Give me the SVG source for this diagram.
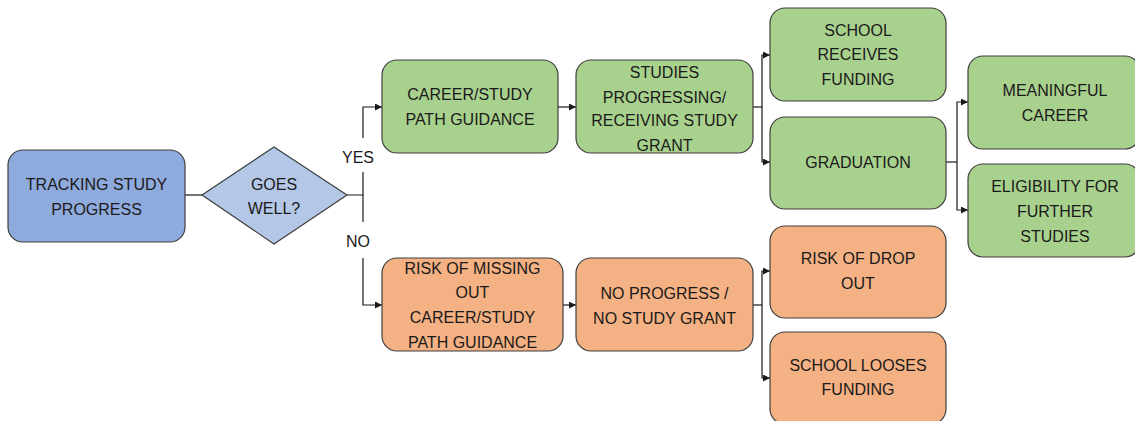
<svg xmlns="http://www.w3.org/2000/svg" width="1135" height="421" viewBox="0 0 1135 421">
<defs>
<style>
.box{stroke:#3f3f3f;stroke-width:1.2}
.blue{fill:#8faadc}
.dia{fill:#b4c7e7}
.green{fill:#a9d18e}
.orange{fill:#f4b183}
text{font-family:"Liberation Sans",Arial,sans-serif;font-size:16px;fill:#1a1a1a;text-anchor:middle;dominant-baseline:central}
.conn{fill:none;stroke:#1a1a1a;stroke-width:1.2}
</style>
<marker id="arr" viewBox="0 0 10 10" refX="10" refY="5" markerWidth="7" markerHeight="7" markerUnits="userSpaceOnUse" orient="auto">
<path d="M0,0 L10,5 L0,10 z" fill="#1a1a1a"/>
</marker>
</defs>
<rect width="1135" height="421" fill="#ffffff"/>

<g id="connectors">
<path class="conn" d="M185,195 H202"/>
<path class="conn" d="M347,195 H363 V172"/>
<path class="conn" d="M363,138 V107 H382" marker-end="url(#arr)"/>
<path class="conn" d="M363,195 V222"/>
<path class="conn" d="M363,258 V305 H382" marker-end="url(#arr)"/>
<path class="conn" d="M558,107 H576" marker-end="url(#arr)"/>
<path class="conn" d="M563,305 H576" marker-end="url(#arr)"/>
<path class="conn" d="M753,107 H762"/>
<path class="conn" d="M762,107 V55 H770" marker-end="url(#arr)"/>
<path class="conn" d="M762,107 V162 H770" marker-end="url(#arr)"/>
<path class="conn" d="M946,162 H957"/>
<path class="conn" d="M957,162 V102 H968" marker-end="url(#arr)"/>
<path class="conn" d="M957,162 V210 H968" marker-end="url(#arr)"/>
<path class="conn" d="M753,305 H762"/>
<path class="conn" d="M762,305 V271 H770" marker-end="url(#arr)"/>
<path class="conn" d="M762,305 V378 H770" marker-end="url(#arr)"/>
<text x="358" y="157">YES</text>
<text x="358" y="241">NO</text>
</g>

<g id="tracking">
<rect class="box blue" x="8" y="150" width="177" height="92" rx="15"/>
<text x="96.5" y="184">TRACKING STUDY</text>
<text x="96.5" y="209">PROGRESS</text>
</g>

<g id="goes-well">
<polygon class="box dia" points="202,195 274,147 347,195 274,244"/>
<text x="274" y="184">GOES</text>
<text x="274" y="208">WELL?</text>
</g>

<g id="career">
<rect class="box green" x="382" y="60" width="176" height="93" rx="15"/>
<text x="470" y="94">CAREER/STUDY</text>
<text x="470" y="119">PATH GUIDANCE</text>
</g>

<g id="studies">
<rect class="box green" x="576" y="60" width="177" height="93" rx="15"/>
<text x="664.5" y="72">STUDIES</text>
<text x="664.5" y="97">PROGRESSING/</text>
<text x="664.5" y="120">RECEIVING STUDY</text>
<text x="664.5" y="145">GRANT</text>
</g>

<g id="school-receives">
<rect class="box green" x="770" y="8" width="176" height="93" rx="15"/>
<text x="858" y="30">SCHOOL</text>
<text x="858" y="54">RECEIVES</text>
<text x="858" y="79">FUNDING</text>
</g>

<g id="graduation">
<rect class="box green" x="770" y="117" width="176" height="92" rx="15"/>
<text x="858" y="162">GRADUATION</text>
</g>

<g id="meaningful">
<rect class="box green" x="968" y="56" width="172" height="93" rx="15"/>
<text x="1055" y="90">MEANINGFUL</text>
<text x="1055" y="115">CAREER</text>
</g>

<g id="eligibility">
<rect class="box green" x="968" y="164" width="172" height="93" rx="15"/>
<text x="1055" y="186">ELIGIBILITY FOR</text>
<text x="1055" y="211">FURTHER</text>
<text x="1055" y="236">STUDIES</text>
</g>

<g id="risk-missing">
<rect class="box orange" x="382" y="258" width="181" height="93" rx="15"/>
<text x="472.5" y="268">RISK OF MISSING</text>
<text x="472.5" y="292">OUT</text>
<text x="472.5" y="317">CAREER/STUDY</text>
<text x="472.5" y="342">PATH GUIDANCE</text>
</g>

<g id="no-progress">
<rect class="box orange" x="576" y="258" width="177" height="93" rx="15"/>
<text x="664.5" y="293">NO PROGRESS /</text>
<text x="664.5" y="318">NO STUDY GRANT</text>
</g>

<g id="risk-drop">
<rect class="box orange" x="770" y="226" width="176" height="92" rx="15"/>
<text x="858" y="258">RISK OF DROP</text>
<text x="858" y="283">OUT</text>
</g>

<g id="school-looses">
<rect class="box orange" x="770" y="332" width="176" height="92" rx="15"/>
<text x="858" y="365">SCHOOL LOOSES</text>
<text x="858" y="389">FUNDING</text>
</g>
</svg>
